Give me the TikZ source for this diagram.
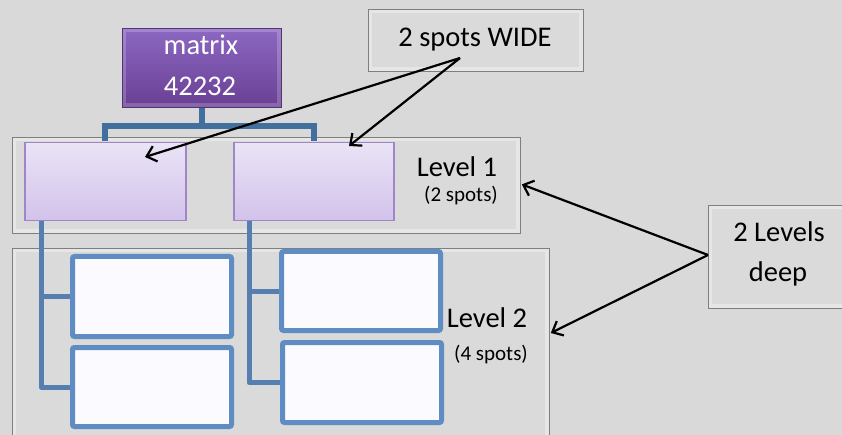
\documentclass[tikz,border=0pt]{standalone}
\usepackage{fontspec}
\setmainfont{Carlito}
\usetikzlibrary{arrows.meta,calc}
\definecolor{bggray}{HTML}{D9D9D9}
\definecolor{boxgray}{HTML}{DADADA}
\definecolor{boxedge}{HTML}{7F7F7F}
\definecolor{purtop}{HTML}{8C68C2}
\definecolor{purbot}{HTML}{693F93}
\definecolor{lavtop}{HTML}{EAE4F6}
\definecolor{lavbot}{HTML}{D2C2EA}
\definecolor{lavedge}{HTML}{9E86C8}
\definecolor{treeblue}{HTML}{41709F}
\definecolor{leafblue}{HTML}{5F8CC2}
\tikzset{
  bevel/.style={draw=boxedge, line width=0.8pt, fill=boxgray, anchor=north west, inner sep=0pt,
    path picture={\draw[white, opacity=0.35, line width=8pt]
      (path picture bounding box.north west) rectangle (path picture bounding box.south east);}},
  topbox/.style={draw=purbot!80!black, line width=0.8pt, top color=purtop, bottom color=purbot,
    anchor=north west, inner sep=0pt,
    path picture={\draw[white, opacity=0.2, line width=8pt]
      (path picture bounding box.north west) rectangle (path picture bounding box.south east);}},
  lavbox/.style={draw=lavedge, line width=1.5pt, top color=lavtop, bottom color=lavbot,
    anchor=north west, inner sep=0pt},
  leafbox/.style={draw=leafblue, line width=5pt, fill=white!98!blue, rounded corners=2pt,
    anchor=north west, inner sep=0pt},
  treeline/.style={draw=treeblue, line width=6pt},
  leafline/.style={draw=leafblue!90!black, line width=5pt, line join=round},
  big/.style={font=\fontsize{28.5}{32}\selectfont, anchor=base, inner sep=0pt},
  small/.style={font=\fontsize{21}{24}\selectfont, anchor=base, inner sep=0pt},
  pointer/.style={draw=black, line width=2.2pt, -{Straight Barb[length=9pt,width=16pt]}},
}
\begin{document}
\begin{tikzpicture}[x=1pt,y=-1pt]
\fill[bggray] (0,0) rectangle (842,435);
\useasboundingbox (0,0) rectangle (842,435);

% containers
\node[bevel, minimum width=508pt, minimum height=96pt] (lv1) at (12,137) {};
\node[bevel, minimum width=537pt, minimum height=200pt] (lv2) at (12,248) {};
\node[bevel, minimum width=215pt, minimum height=62pt] (wide) at (368,9) {};
\node[bevel, minimum width=150pt, minimum height=103pt] (deep) at (708,205) {};

% tree
\node[topbox, minimum width=159pt, minimum height=79pt] (mat) at (122,28) {};
\node[lavbox, minimum width=161pt, minimum height=78pt] (a1) at (24,142) {};
\node[lavbox, minimum width=160pt, minimum height=78pt] (a2) at (233,142) {};

\draw[treeline] (mat.south) -- ++(0,18) -| ([yshift=0.75pt]a1.north);
\draw[treeline] (mat.south) -- ++(0,18) -| ([yshift=0.75pt]a2.north);

\node[leafbox, minimum width=159pt, minimum height=80pt] (b1) at (70,254) {};
\node[leafbox, minimum width=159pt, minimum height=79pt] (b2) at (70,345) {};
\node[leafbox, minimum width=159pt, minimum height=79pt] (b3) at (279,249) {};
\node[leafbox, minimum width=159pt, minimum height=80pt] (b4) at (280,340) {};

\draw[leafline] ($(a1.south west)+(17,0)$) |- (b1.west);
\draw[leafline] ($(a1.south west)+(17,0)$) |- (b2.west);
\draw[leafline] ($(a2.south west)+(16,0)$) |- (b3.west);
\draw[leafline] ($(a2.south west)+(16,0)$) |- (b4.west);

% texts
\node[big, text=white] (t1) at (201,55) {matrix};
\node[big, text=white] (t2) at (200,96) {42232};
\node[big] (t3) at (475,47) {2 spots WIDE};
\node[big] (t4) at (457,177) {Level 1};
\node[small] (t5) at (461,202) {(2 spots)};
\node[big] (t6) at (487,327) {Level 2};
\node[small] (t7) at (491,360) {(4 spots)};
\node[big] (t8) at (779,242) {2 Levels};
\node[big] (t9) at (778,282) {deep};

% pointers
\coordinate (wfrom) at (460,58);
\coordinate (dfrom) at (708,255);
\coordinate (a1tip) at ($(a1.north west)+(121,15)$);
\coordinate (a2tip) at ($(a2.north west)+(116,4)$);
\coordinate (lv2tip) at ($(lv2.north east)+(1,85)$);
\draw[pointer] (wfrom) -- (a1tip);
\draw[pointer] (wfrom) -- (a2tip);
\draw[pointer] (dfrom) -- ([xshift=1pt,yshift=1pt]lv1.east);
\draw[pointer] (dfrom) -- (lv2tip);
\end{tikzpicture}
\end{document}
